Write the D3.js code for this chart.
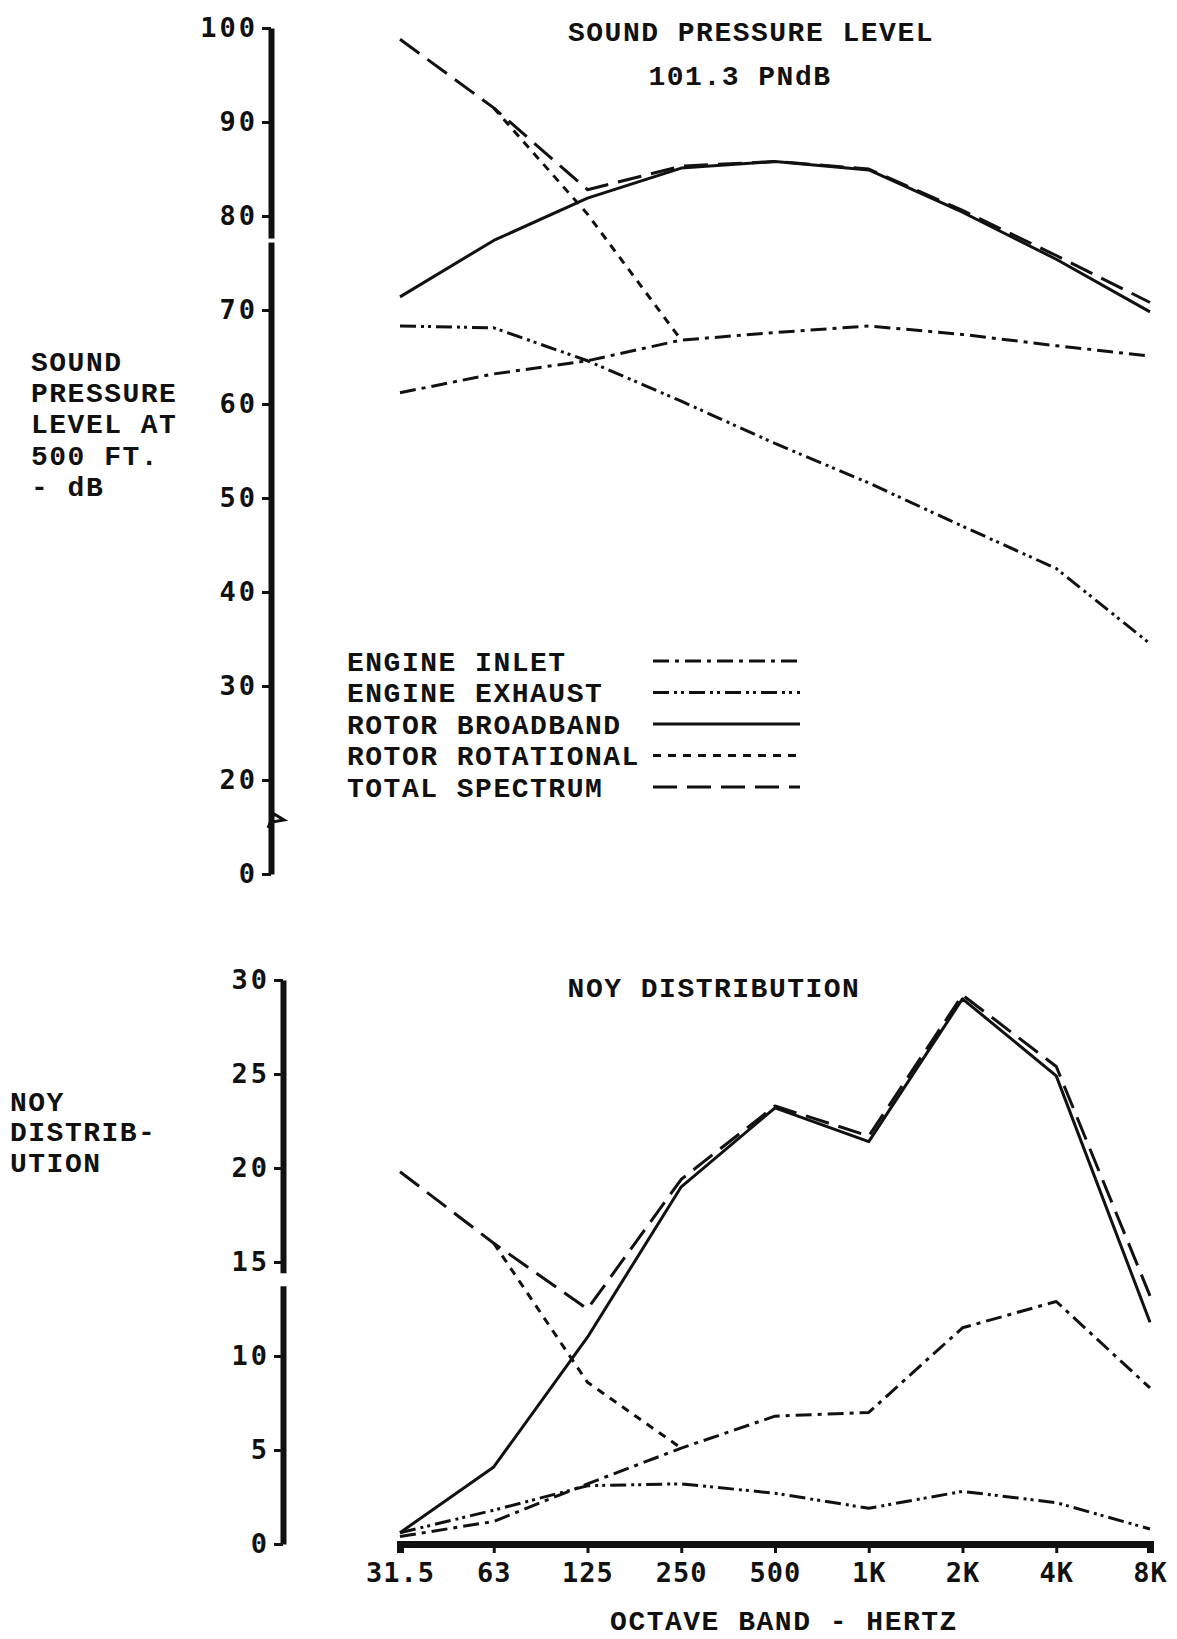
<!DOCTYPE html>
<html>

<head>
  <meta charset="utf-8" />
  <title>Sound Pressure Level and NOY Distribution</title>
  <style>
    body {
      margin: 0;
      background: white;
    }

    .typed {
      font-family: "Liberation Mono", monospace;
      font-weight: bold;
      font-size: 28px;
      letter-spacing: 1.5px;
      fill: #111;
    }

    .axis text {
      font-family: "DejaVu Sans Mono", monospace;
      font-weight: bold;
      font-size: 27px;
      fill: #111;
    }

    .axis path,
    .axis line {
      stroke: #111;
    }

    .series {
      fill: none;
      stroke: #111;
      stroke-width: 3;
      stroke-linejoin: round;
    }
  </style>
</head>

<body>
  <svg></svg>

  <script src="https://d3js.org/d3.v7.min.js"></script>
  <script>
    var width = 1177,
      height = 1639;
    var svg = d3.select("svg")
      .attr("width", width)
      .attr("height", height);

    // octave bands
    var bands = ["31.5", "63", "125", "250", "500", "1K", "2K", "4K", "8K"];

    // sound pressure level at 500 ft, dB
    var splInlet = [61.2, 63.2, 64.6, 66.8, 67.6, 68.3, 67.4, 66.2, 65.1];
    var splExhaust = [68.3, 68.1, 64.6, 60.3, 55.8, 51.6, 47.0, 42.5, 34.5];
    var splBroadband = [71.4, 77.4, 81.9, 85.1, 85.8, 84.9, 80.4, 75.4, 69.8];
    var splRotational = [null, 91.5, 80.2, 66.8, null, null, null, null, null];
    var splTotal = [98.8, 91.5, 82.8, 85.3, 85.8, 85.0, 80.6, 75.8, 70.8];

    // noy distribution
    var noyInlet = [0.4, 1.2, 3.2, 5.1, 6.8, 7.0, 11.5, 12.9, 8.3];
    var noyExhaust = [0.6, 1.8, 3.1, 3.2, 2.7, 1.9, 2.8, 2.2, 0.8];
    var noyBroadband = [0.6, 4.1, 11.0, 19.0, 23.2, 21.4, 29.0, 24.9, 11.8];
    var noyRotational = [null, 16.0, 8.6, 5.1, null, null, null, null, null];
    var noyTotal = [19.8, 16.0, 12.5, 19.4, 23.3, 21.7, 29.2, 25.4, 13.2];

    var legendNames = ["ENGINE INLET", "ENGINE EXHAUST", "ROTOR BROADBAND", "ROTOR ROTATIONAL", "TOTAL SPECTRUM"];
    var dashes = ["16,6,4,6", "16,5,3,4,3,5", null, "8,7", "24,10"];

    var yTopTicks = [0, 20, 30, 40, 50, 60, 70, 80, 90, 100];
    var yBotTicks = [0, 5, 10, 15, 20, 25, 30];

    var x = d3.scalePoint().domain(bands).range([400, 1150]);
    // the top axis is broken between 0 and 20
    var yTop = d3.scaleLinear().domain([0, 20, 100]).range([874, 780, 28]);
    var yBot = d3.scaleLinear().domain([0, 30]).range([1544, 980]);

    function axisLeft(scale, ticks, xpos) {
      var g = svg.append("g")
        .attr("class", "axis")
        .attr("transform", "translate(" + xpos + ",0)")
        .call(d3.axisLeft(scale).tickValues(ticks).tickSize(9).tickSizeOuter(0).tickPadding(4));
      g.select(".domain").attr("stroke-width", 6);
      g.selectAll(".tick line").attr("stroke-width", 3);
      g.selectAll(".tick text").attr("letter-spacing", 3);
      return g;
    }

    axisLeft(yTop, yTopTicks, 271);
    axisLeft(yBot, yBotTicks, 283);

    // small gaps in the hand drawn axes
    svg.append("rect").attr("x", 264).attr("y", yTop(77.6)).attr("width", 14).attr("height", 4).attr("fill", "white");
    svg.append("rect").attr("x", 276).attr("y", yBot(14.4)).attr("width", 14).attr("height", 13).attr("fill", "white");

    // break mark on the top axis
    var by = yTop(11.5);
    svg.append("path")
      .attr("d", "M268," + (by + 8) + " L274," + (by - 6) + " L284," + by + " L272," + (by + 2))
      .attr("fill", "none")
      .attr("stroke", "#111")
      .attr("stroke-width", 3);

    var gx = svg.append("g")
      .attr("class", "axis")
      .attr("transform", "translate(0," + yBot(0) + ")")
      .call(d3.axisBottom(x).tickSize(9).tickPadding(10));
    gx.select(".domain").attr("stroke-width", 7);
    gx.selectAll(".tick line").attr("stroke-width", 3);
    gx.selectAll(".tick text").attr("letter-spacing", 1);

    function drawSeries(values, yScale, dash) {
      var pts = bands.map((b, i) => ({ b: b, v: values[i] }));
      var line = d3.line()
        .defined(d => d.v != null)
        .x(d => x(d.b))
        .y(d => yScale(d.v));
      svg.append("path")
        .datum(pts)
        .attr("class", "series")
        .attr("stroke-dasharray", dash)
        .attr("d", line);
    }

    [splInlet, splExhaust, splBroadband, splRotational, splTotal]
      .forEach((s, i) => drawSeries(s, yTop, dashes[i]));
    [noyInlet, noyExhaust, noyBroadband, noyRotational, noyTotal]
      .forEach((s, i) => drawSeries(s, yBot, dashes[i]));

    // legend
    var legend = svg.append("g").attr("transform", "translate(347,661)");
    legendNames.forEach(function (name, i) {
      var row = legend.append("g").attr("transform", "translate(0," + (i * 31.5) + ")");
      row.append("text")
        .attr("class", "typed")
        .attr("dy", "0.35em")
        .text(name);
      row.append("line")
        .attr("class", "series")
        .attr("x1", 306).attr("x2", 453)
        .attr("stroke-dasharray", dashes[i]);
    });

    // titles and axis labels
    function typed(txt, xpos, ypos, anchor) {
      svg.append("text")
        .attr("class", "typed")
        .attr("x", xpos)
        .attr("y", ypos)
        .attr("dy", "0.35em")
        .attr("text-anchor", anchor || "start")
        .text(txt);
    }

    typed("SOUND PRESSURE LEVEL", 751, 31, "middle");
    typed("101.3 PNdB", 740, 75, "middle");
    typed("NOY DISTRIBUTION", 714, 987, "middle");
    typed("OCTAVE BAND - HERTZ", 784, 1620, "middle");

    ["SOUND", "PRESSURE", "LEVEL AT", "500 FT.", "- dB"]
      .forEach((t, i) => typed(t, 31, 361 + i * 31.3));
    ["NOY", "DISTRIB-", "UTION"]
      .forEach((t, i) => typed(t, 10, 1101 + i * 30.5));
  </script>
</body>

</html>
